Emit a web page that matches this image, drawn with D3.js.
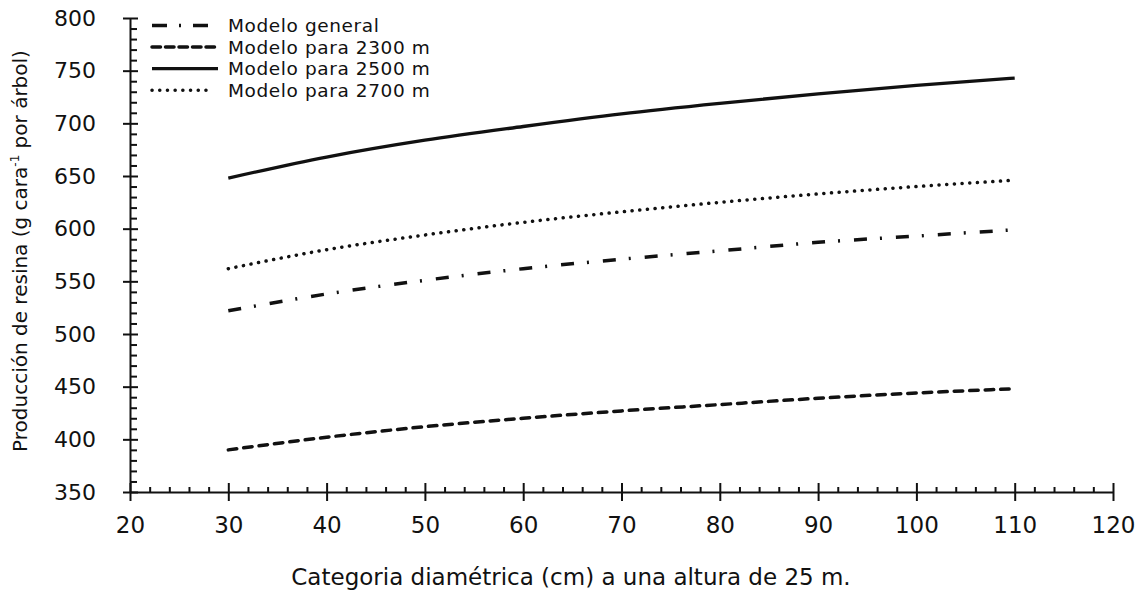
<!DOCTYPE html>
<html lang="es">
<head>
<meta charset="UTF-8">
<title>Producción de resina</title>
<script src="https://d3js.org/d3.v7.min.js"></script>
<style>
  body { margin: 0; background: #fff; }
  svg { display: block; font-family: "DejaVu Sans", Verdana, sans-serif; }
</style>
</head>
<body>
<svg width="1144" height="591"></svg>
<script>
// diámetro (cm)
const diametros = [30, 40, 50, 60, 70, 80, 90, 100, 110];
// producción de resina (g cara-1 por árbol)
const modeloGeneral = [522, 538, 551, 562, 571, 579, 587, 593, 599];
const modelo2300 = [390, 402, 412, 420, 427, 433, 439, 444, 448];
const modelo2500 = [648, 668, 684, 697, 709, 719, 728, 736, 743];
const modelo2700 = [562, 580, 594, 606, 616, 625, 633, 640, 646];

const xTicks = [20, 30, 40, 50, 60, 70, 80, 90, 100, 110, 120];
const yTicks = [350, 400, 450, 500, 550, 600, 650, 700, 750, 800];

const series = [
  { name: "Modelo general", values: modeloGeneral, dash: "13,13,2,14", cap: "butt", legendDash: "15,12,2,12" },
  { name: "Modelo para 2300 m", values: modelo2300, dash: "8.5,7", cap: "round", legendDash: "8.5,5" },
  { name: "Modelo para 2500 m", values: modelo2500, dash: null, cap: "butt", legendDash: null },
  { name: "Modelo para 2700 m", values: modelo2700, dash: "0.1,7.6", cap: "round", legendDash: "0.1,7.6" }
];

const svg = d3.select("svg");
const x = d3.scaleLinear().domain([20, 120]).range([130, 1113]);
const y = d3.scaleLinear().domain([350, 800]).range([492, 18]);
const ink = "#111";

// minor ticks
const xMinor = d3.range(20, 120.1, 2).filter(v => v % 10 !== 0);
const yMinor = d3.range(350, 800.1, 10).filter(v => v % 50 !== 0);

svg.append("g")
  .attr("transform", "translate(0,492)")
  .call(d3.axisBottom(x).tickValues(xMinor).tickSize(-5).tickFormat(""))
  .call(g => g.select(".domain").remove())
  .call(g => g.selectAll("line").attr("stroke", ink).attr("stroke-width", 2));

svg.append("g")
  .attr("transform", "translate(130,0)")
  .call(d3.axisLeft(y).tickValues(yMinor).tickSize(-7).tickFormat(""))
  .call(g => g.select(".domain").remove())
  .call(g => g.selectAll("line").attr("stroke", ink).attr("stroke-width", 2));

// major axes
const gx = svg.append("g")
  .attr("transform", "translate(0,492)")
  .call(d3.axisBottom(x).tickValues(xTicks).tickSize(9).tickSizeOuter(0).tickPadding(16));
gx.selectAll(".tick line").attr("y1", -9).attr("y2", 9);
gx.selectAll("line, .domain").attr("stroke", ink).attr("stroke-width", 2);
gx.selectAll("text").attr("font-size", 23).attr("fill", ink).attr("font-family", "DejaVu Sans");

const gy = svg.append("g")
  .attr("transform", "translate(130,0)")
  .call(d3.axisLeft(y).tickValues(yTicks).tickSize(7).tickSizeOuter(0).tickPadding(27));
gy.selectAll(".tick line").attr("x1", -7).attr("x2", 8);
gy.selectAll("line, .domain").attr("stroke", ink).attr("stroke-width", 2);
gy.selectAll("text").attr("font-size", 22).attr("fill", ink).attr("font-family", "DejaVu Sans");

// curves
const line = d3.line()
  .x((d, i) => x(diametros[i]))
  .y(d => y(d))
  .curve(d3.curveMonotoneX);

series.forEach(s => {
  svg.append("path")
    .attr("d", line(s.values))
    .attr("fill", "none")
    .attr("stroke", ink)
    .attr("stroke-width", s.dash ? 3.5 : 3.3)
    .attr("stroke-linecap", s.cap)
    .attr("stroke-dasharray", s.dash);
});

// legend
const legend = svg.append("g");
series.forEach((s, i) => {
  const ly = 25.5 + i * 21.6;
  legend.append("line")
    .attr("x1", 152).attr("x2", i === 3 ? 213 : 218)
    .attr("y1", ly).attr("y2", ly)
    .attr("stroke", ink)
    .attr("stroke-width", s.dash ? 3.5 : 3.3)
    .attr("stroke-linecap", s.cap)
    .attr("stroke-dasharray", s.legendDash);
  legend.append("text")
    .attr("x", 228).attr("y", ly)
    .attr("dy", "0.36em")
    .attr("font-size", 18.5)
    .attr("letter-spacing", 0.6)
    .attr("fill", ink)
    .text(s.name);
});

// axis titles
svg.append("text")
  .attr("x", 571).attr("y", 585)
  .attr("text-anchor", "middle")
  .attr("font-size", 23)
  .attr("fill", ink)
  .text("Categoria diamétrica (cm) a una altura de 25 m.");

const yt = svg.append("text")
  .attr("transform", "translate(27,251) rotate(-90)")
  .attr("text-anchor", "middle")
  .attr("font-size", 20)
  .attr("fill", ink);
yt.append("tspan").text("Producción de resina (g cara");
yt.append("tspan").attr("font-size", 12).attr("dy", -8).text("-1");
yt.append("tspan").attr("dy", 8).text(" por árbol)");
</script>
</body>
</html>
